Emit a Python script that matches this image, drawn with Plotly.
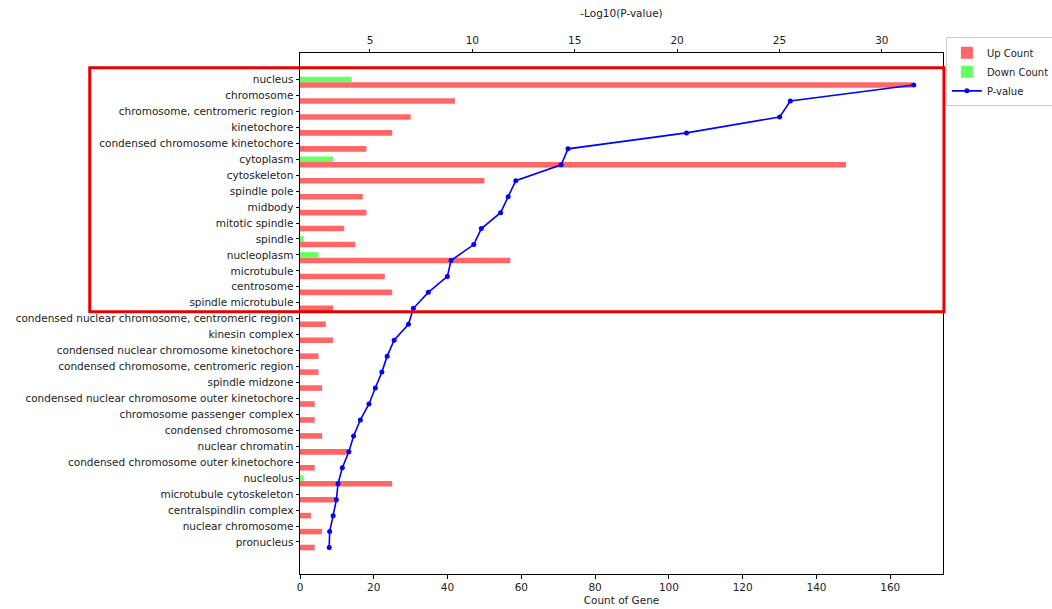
import plotly.graph_objects as go

# GO cellular-component terms, top to bottom
categories = [
    "nucleus", "chromosome", "chromosome, centromeric region", "kinetochore",
    "condensed chromosome kinetochore", "cytoplasm", "cytoskeleton", "spindle pole",
    "midbody", "mitotic spindle", "spindle", "nucleoplasm", "microtubule",
    "centrosome", "spindle microtubule",
    "condensed nuclear chromosome, centromeric region", "kinesin complex",
    "condensed nuclear chromosome kinetochore", "condensed chromosome, centromeric region",
    "spindle midzone", "condensed nuclear chromosome outer kinetochore",
    "chromosome passenger complex", "condensed chromosome", "nuclear chromatin",
    "condensed chromosome outer kinetochore", "nucleolus", "microtubule cytoskeleton",
    "centralspindlin complex", "nuclear chromosome", "pronucleus",
]
up_count = [166, 42, 30, 25, 18, 148, 50, 17, 18, 12, 15, 57, 23, 25, 9,
            7, 9, 5, 5, 6, 4, 4, 6, 13, 4, 25, 10, 3, 6, 4]
down_count = [14, 0, 0, 0, 0, 9, 0, 0, 0, 0, 1, 5, 0, 0, 0,
              0, 0, 0, 0, 0, 0, 0, 0, 0, 0, 1, 0, 0, 0, 0]
neg_log10_p = [31.56, 25.53, 25.01, 20.46, 14.67, 14.34, 12.12, 11.75, 11.38, 10.44,
               10.07, 8.96, 8.78, 7.85, 7.12, 6.88, 6.18, 5.84, 5.58, 5.26,
               4.95, 4.53, 4.20, 3.97, 3.65, 3.44, 3.36, 3.20, 3.03, 3.01]

bar_h = 0.35
rows = list(range(len(categories)))
up_rows = [r + bar_h for r in rows]

font = dict(family="DejaVu Sans", size=10.5, color="#222")

fig = go.Figure()
fig.add_trace(go.Bar(
    x=up_count, y=up_rows, orientation="h", width=bar_h,
    name="Up Count", marker=dict(color="rgba(255,0,0,0.6)", line=dict(width=0)),
    xaxis="x", yaxis="y",
))
fig.add_trace(go.Bar(
    x=down_count, y=rows, orientation="h", width=bar_h,
    name="Down Count", marker=dict(color="rgba(0,255,0,0.6)", line=dict(width=0)),
    xaxis="x", yaxis="y",
))
fig.add_trace(go.Scatter(
    x=neg_log10_p, y=up_rows, mode="lines+markers", name="P-value",
    line=dict(color="#0000ff", width=1.6), marker=dict(color="#0000ff", size=5),
    xaxis="x2", yaxis="y",
))

# autoscale-style limits with 5% padding
pmin, pmax = min(neg_log10_p), max(neg_log10_p)
pad_p = 0.05 * (pmax - pmin)
ylo = -bar_h / 2
yhi = rows[-1] + bar_h + bar_h / 2
pad_y = 0.05 * (yhi - ylo)

fig.update_layout(
    width=1052, height=609,
    margin=dict(l=300, r=109, t=53, b=35, autoexpand=False),
    paper_bgcolor="white", plot_bgcolor="white",
    font=font,
    barmode="overlay",
    showlegend=True,
    legend=dict(
        x=1.0045, y=1.03, xanchor="left", yanchor="top",
        bgcolor="white", bordercolor="#cccccc", borderwidth=1,
        font=dict(family="DejaVu Sans", size=10, color="#222"),
        tracegroupgap=0, itemwidth=30,
    ),
    xaxis=dict(
        range=[0, max(up_count) * 1.05], tick0=0, dtick=20,
        showgrid=False, zeroline=False,
        showline=True, linecolor="black", linewidth=1, mirror=True,
        ticks="outside", ticklen=3.5, tickcolor="black",
        title=dict(text="Count of Gene", standoff=4, font=font),
        automargin=False,
    ),
    xaxis2=dict(
        overlaying="x", side="top",
        range=[pmin - pad_p, pmax + pad_p], tick0=0, dtick=5,
        showgrid=False, zeroline=False, showline=False,
        ticks="outside", ticklen=3.5, tickcolor="black",
        title=dict(text="-Log10(P-value)", standoff=14, font=font),
        automargin=False,
    ),
    yaxis=dict(
        range=[yhi + pad_y, ylo - pad_y],
        tickmode="array", tickvals=rows, ticktext=categories,
        showgrid=False, zeroline=False,
        showline=True, linecolor="black", linewidth=1, mirror=True,
        ticks="outside", ticklen=3.5, tickcolor="black",
        automargin=False,
    ),
)

# highlight frame around the top 15 terms
fig.add_shape(
    type="rect", xref="paper", yref="paper",
    x0=-0.327, x1=1.0015, y0=0.5035, y1=0.9718,
    line=dict(color="#e60000", width=3), fillcolor="rgba(0,0,0,0)", layer="above",
)

fig.write_html("out.html")
